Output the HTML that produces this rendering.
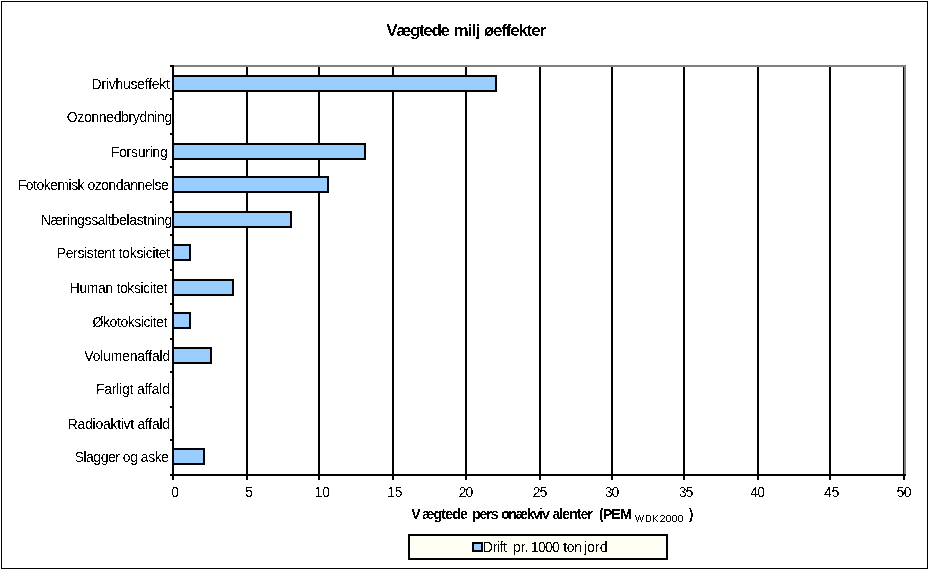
<!DOCTYPE html>
<html lang="da"><head><meta charset="utf-8"><title>Vægtede miljøeffekter</title><style>
html,body{margin:0;padding:0;background:#fff;}
body{width:929px;height:570px;position:relative;overflow:hidden;font-family:"Liberation Sans",sans-serif;color:#000;}
div{position:absolute;box-sizing:border-box;}
.k{background:#000;}
.g{background:#808080;}
.b{background:#99ccff;border:2px solid #000;}
.grp{left:0;top:0;}
.t{white-space:nowrap;filter:url(#th);}
.bd{filter:url(#th3);}
</style></head><body>
<svg width="0" height="0" style="position:absolute"><filter id="th" x="0" y="0" width="100%" height="100%" color-interpolation-filters="sRGB"><feComponentTransfer><feFuncA type="discrete" tableValues="0 0 0 0 0 1 1 1 1 1"/></feComponentTransfer></filter><filter id="th3" x="0" y="0" width="100%" height="100%" color-interpolation-filters="sRGB"><feComponentTransfer><feFuncA type="discrete" tableValues="0 0 0 0 0 0 0 0 0 0 0 1 1 1 1 1 1 1 1 1"/></feComponentTransfer></filter></svg>
<div style="left:1px;top:1px;width:927px;height:568px;border:1px solid #000;"></div>
<div class="k" style="left:172px;top:65px;width:2px;height:415px;"></div>
<div class="k" style="left:246px;top:67px;width:2px;height:413px;"></div>
<div class="k" style="left:318px;top:67px;width:2px;height:413px;"></div>
<div class="k" style="left:392px;top:67px;width:2px;height:413px;"></div>
<div class="k" style="left:465px;top:67px;width:2px;height:413px;"></div>
<div class="k" style="left:539px;top:67px;width:2px;height:413px;"></div>
<div class="k" style="left:611px;top:67px;width:2px;height:413px;"></div>
<div class="k" style="left:683px;top:67px;width:2px;height:413px;"></div>
<div class="k" style="left:757px;top:67px;width:2px;height:413px;"></div>
<div class="k" style="left:829px;top:67px;width:2px;height:413px;"></div>
<div class="k" style="left:903px;top:67px;width:2px;height:413px;"></div>
<div class="g" style="left:174px;top:65px;width:732px;height:2px;"></div>
<div class="g" style="left:904px;top:65px;width:2px;height:409px;"></div>
<div class="k" style="left:170px;top:474px;width:736px;height:2px;"></div>
<div class="k" style="left:170px;top:65px;width:2px;height:2px;"></div>
<div class="k" style="left:170px;top:98px;width:2px;height:2px;"></div>
<div class="k" style="left:170px;top:133px;width:2px;height:2px;"></div>
<div class="k" style="left:170px;top:166px;width:2px;height:2px;"></div>
<div class="k" style="left:170px;top:201px;width:2px;height:2px;"></div>
<div class="k" style="left:170px;top:234px;width:2px;height:2px;"></div>
<div class="k" style="left:170px;top:269px;width:2px;height:2px;"></div>
<div class="k" style="left:170px;top:303px;width:2px;height:2px;"></div>
<div class="k" style="left:170px;top:338px;width:2px;height:2px;"></div>
<div class="k" style="left:170px;top:371px;width:2px;height:2px;"></div>
<div class="k" style="left:170px;top:406px;width:2px;height:2px;"></div>
<div class="k" style="left:170px;top:439px;width:2px;height:2px;"></div>
<div class="k" style="left:170px;top:474px;width:2px;height:2px;"></div>
<div class="b" style="left:172px;top:75px;width:325px;height:17px;"></div>
<div class="b" style="left:172px;top:143px;width:194px;height:17px;"></div>
<div class="b" style="left:172px;top:176px;width:157px;height:17px;"></div>
<div class="b" style="left:172px;top:211px;width:120px;height:17px;"></div>
<div class="b" style="left:172px;top:244px;width:19px;height:17px;"></div>
<div class="b" style="left:172px;top:279px;width:62px;height:17px;"></div>
<div class="b" style="left:172px;top:312px;width:19px;height:17px;"></div>
<div class="b" style="left:172px;top:347px;width:40px;height:17px;"></div>
<div class="b" style="left:172px;top:448px;width:33px;height:17px;"></div>
<div style="left:408px;top:534px;width:260px;height:26px;border:2px solid #000;background:#fffff5;"></div>
<div style="left:472px;top:542px;width:11px;height:10px;border:2px solid #000;background:#99ccff;"></div>
<div class="grp cat"><div class="t" style="left:91.60px;top:73px;line-height:22px;height:22px;font-size:14px;font-weight:normal;letter-spacing:-0.254px;">Drivhuseffekt</div></div>
<div class="grp cat"><div class="t" style="left:66.80px;top:106px;line-height:22px;height:22px;font-size:14px;font-weight:normal;letter-spacing:-0.360px;">Ozonnedbrydning</div></div>
<div class="grp cat"><div class="t" style="left:110.80px;top:141px;line-height:22px;height:22px;font-size:14px;font-weight:normal;letter-spacing:-0.268px;">Forsuring</div></div>
<div class="grp cat"><div class="t" style="left:17.80px;top:174px;line-height:22px;height:22px;font-size:14px;font-weight:normal;letter-spacing:-0.530px;">Fotokemisk ozondannelse</div></div>
<div class="grp cat"><div class="t" style="left:40.70px;top:209px;line-height:22px;height:22px;font-size:14px;font-weight:normal;letter-spacing:-0.347px;">Næringssaltbelastning</div></div>
<div class="grp cat"><div class="t" style="left:56.70px;top:242px;line-height:22px;height:22px;font-size:14px;font-weight:normal;letter-spacing:-0.365px;">Persistent toksicitet</div></div>
<div class="grp cat"><div class="t" style="left:69.70px;top:277px;line-height:22px;height:22px;font-size:14px;font-weight:normal;letter-spacing:-0.380px;">Human toksicitet</div></div>
<div class="grp cat"><div class="t" style="left:92.60px;top:311px;line-height:22px;height:22px;font-size:14px;font-weight:normal;letter-spacing:-0.437px;">Økotoksicitet</div></div>
<div class="grp cat"><div class="t" style="left:84.30px;top:345px;line-height:22px;height:22px;font-size:14px;font-weight:normal;letter-spacing:-0.208px;">Volumenaffald</div></div>
<div class="grp cat"><div class="t" style="left:95.90px;top:378px;line-height:22px;height:22px;font-size:14px;font-weight:normal;letter-spacing:-0.207px;">Farligt affald</div></div>
<div class="grp cat"><div class="t" style="left:67.80px;top:413px;line-height:22px;height:22px;font-size:14px;font-weight:normal;letter-spacing:-0.291px;">Radioaktivt affald</div></div>
<div class="grp cat"><div class="t" style="left:74.60px;top:446px;line-height:22px;height:22px;font-size:14px;font-weight:normal;letter-spacing:-0.485px;">Slagger og aske</div></div>
<div class="grp xl"><div class="t" style="left:171.25px;top:481px;line-height:22px;height:22px;font-size:14px;font-weight:normal;letter-spacing:0.000px;">0</div></div>
<div class="grp xl"><div class="t" style="left:245.00px;top:481px;line-height:22px;height:22px;font-size:14px;font-weight:normal;letter-spacing:0.000px;">5</div></div>
<div class="grp xl"><div class="t" style="left:314.60px;top:481px;line-height:22px;height:22px;font-size:14px;font-weight:normal;letter-spacing:0.000px;">1</div><div class="t" style="left:322.25px;top:481px;line-height:22px;height:22px;font-size:14px;font-weight:normal;letter-spacing:0.000px;">0</div></div>
<div class="grp xl"><div class="t" style="left:387.10px;top:481px;line-height:22px;height:22px;font-size:14px;font-weight:normal;letter-spacing:0.000px;">1</div><div class="t" style="left:394.75px;top:481px;line-height:22px;height:22px;font-size:14px;font-weight:normal;letter-spacing:0.000px;">5</div></div>
<div class="grp xl"><div class="t" style="left:458.75px;top:481px;line-height:22px;height:22px;font-size:14px;font-weight:normal;letter-spacing:-1.036px;">20</div></div>
<div class="grp xl"><div class="t" style="left:532.75px;top:481px;line-height:22px;height:22px;font-size:14px;font-weight:normal;letter-spacing:-1.036px;">25</div></div>
<div class="grp xl"><div class="t" style="left:604.75px;top:481px;line-height:22px;height:22px;font-size:14px;font-weight:normal;letter-spacing:-1.136px;">30</div></div>
<div class="grp xl"><div class="t" style="left:678.75px;top:481px;line-height:22px;height:22px;font-size:14px;font-weight:normal;letter-spacing:-1.036px;">35</div></div>
<div class="grp xl"><div class="t" style="left:750.25px;top:481px;line-height:22px;height:22px;font-size:14px;font-weight:normal;letter-spacing:-0.786px;">40</div></div>
<div class="grp xl"><div class="t" style="left:824.00px;top:481px;line-height:22px;height:22px;font-size:14px;font-weight:normal;letter-spacing:-0.286px;">45</div></div>
<div class="grp xl"><div class="t" style="left:896.50px;top:481px;line-height:22px;height:22px;font-size:14px;font-weight:normal;letter-spacing:-0.536px;">50</div></div>
<div class="grp title"><div class="t bd" style="left:386.25px;top:18px;line-height:25px;height:25px;font-size:17px;font-weight:bold;letter-spacing:-1.348px;">Vægtede</div> <div class="t bd" style="left:453.50px;top:18px;line-height:25px;height:25px;font-size:17px;font-weight:bold;letter-spacing:-0.687px;">milj</div><div class="t bd" style="left:483.75px;top:18px;line-height:25px;height:25px;font-size:17px;font-weight:bold;letter-spacing:-1.180px;">øeffekter</div></div>
<div class="grp axt"><div class="t" style="left:411.25px;top:503px;line-height:22px;height:22px;font-size:14px;font-weight:bold;letter-spacing:0.000px;">V</div><div class="t" style="left:421.90px;top:503px;line-height:22px;height:22px;font-size:14px;font-weight:bold;letter-spacing:-0.760px;">ægtede</div> <div class="t" style="left:472.25px;top:503px;line-height:22px;height:22px;font-size:14px;font-weight:bold;letter-spacing:-1.095px;">pers</div><div class="t" style="left:501.25px;top:503px;line-height:22px;height:22px;font-size:14px;font-weight:bold;letter-spacing:-1.377px;">onækviv</div><div class="t" style="left:552.50px;top:503px;line-height:22px;height:22px;font-size:14px;font-weight:bold;letter-spacing:-0.910px;">alenter</div> <div class="t" style="left:599.00px;top:503px;line-height:22px;height:22px;font-size:14px;font-weight:bold;letter-spacing:-0.696px;">(PEM</div> <svg style="position:absolute;left:635px;top:515px" width="48" height="7" viewBox="0 0 48 7" shape-rendering="crispEdges" role="img" aria-label="WDK2000"><path d="M0 0h1v1h-1zM4 0h1v1h-1zM8 0h1v1h-1zM0 1h1v1h-1zM4 1h1v1h-1zM8 1h1v1h-1zM1 2h1v1h-1zM3 2h1v1h-1zM5 2h1v1h-1zM7 2h1v1h-1zM1 3h1v1h-1zM3 3h1v1h-1zM5 3h1v1h-1zM7 3h1v1h-1zM1 4h1v1h-1zM3 4h1v1h-1zM5 4h1v1h-1zM7 4h1v1h-1zM2 5h1v1h-1zM6 5h1v1h-1zM2 6h1v1h-1zM6 6h1v1h-1zM11 0h4v1h-4zM11 1h1v1h-1zM15 1h1v1h-1zM11 2h1v1h-1zM15 2h1v1h-1zM11 3h1v1h-1zM15 3h1v1h-1zM11 4h1v1h-1zM15 4h1v1h-1zM11 5h1v1h-1zM15 5h1v1h-1zM11 6h4v1h-4zM18 0h1v1h-1zM22 0h1v1h-1zM18 1h1v1h-1zM21 1h1v1h-1zM18 2h1v1h-1zM20 2h1v1h-1zM18 3h2v1h-2zM18 4h1v1h-1zM20 4h1v1h-1zM18 5h1v1h-1zM21 5h1v1h-1zM18 6h1v1h-1zM22 6h1v1h-1zM26 0h3v1h-3zM25 1h1v1h-1zM29 1h1v1h-1zM29 2h1v1h-1zM28 3h1v1h-1zM27 4h1v1h-1zM26 5h1v1h-1zM25 6h5v1h-5zM32 0h3v1h-3zM31 1h1v1h-1zM35 1h1v1h-1zM31 2h1v1h-1zM35 2h1v1h-1zM31 3h1v1h-1zM35 3h1v1h-1zM31 4h1v1h-1zM35 4h1v1h-1zM31 5h1v1h-1zM35 5h1v1h-1zM32 6h3v1h-3zM38 0h3v1h-3zM37 1h1v1h-1zM41 1h1v1h-1zM37 2h1v1h-1zM41 2h1v1h-1zM37 3h1v1h-1zM41 3h1v1h-1zM37 4h1v1h-1zM41 4h1v1h-1zM37 5h1v1h-1zM41 5h1v1h-1zM38 6h3v1h-3zM44 0h3v1h-3zM43 1h1v1h-1zM47 1h1v1h-1zM43 2h1v1h-1zM47 2h1v1h-1zM43 3h1v1h-1zM47 3h1v1h-1zM43 4h1v1h-1zM47 4h1v1h-1zM43 5h1v1h-1zM47 5h1v1h-1zM44 6h3v1h-3z" fill="#000"/></svg> <div class="t" style="left:688.75px;top:503px;line-height:22px;height:22px;font-size:14px;font-weight:bold;letter-spacing:0.000px;">)</div></div>
<div class="grp leg"><div class="t" style="left:483.00px;top:536px;line-height:22px;height:22px;font-size:14px;font-weight:normal;letter-spacing:-0.443px;">Drift</div> <div class="t" style="left:513.00px;top:536px;line-height:22px;height:22px;font-size:14px;font-weight:normal;letter-spacing:-0.138px;">pr.</div> <div class="t" style="left:530.80px;top:536px;line-height:22px;height:22px;font-size:14px;font-weight:normal;letter-spacing:-0.686px;">1000</div> <div class="t" style="left:563.30px;top:536px;line-height:22px;height:22px;font-size:14px;font-weight:normal;letter-spacing:-0.338px;">ton</div> <div class="t" style="left:584.20px;top:536px;line-height:22px;height:22px;font-size:14px;font-weight:normal;letter-spacing:-0.020px;">jord</div></div>
</body></html>
